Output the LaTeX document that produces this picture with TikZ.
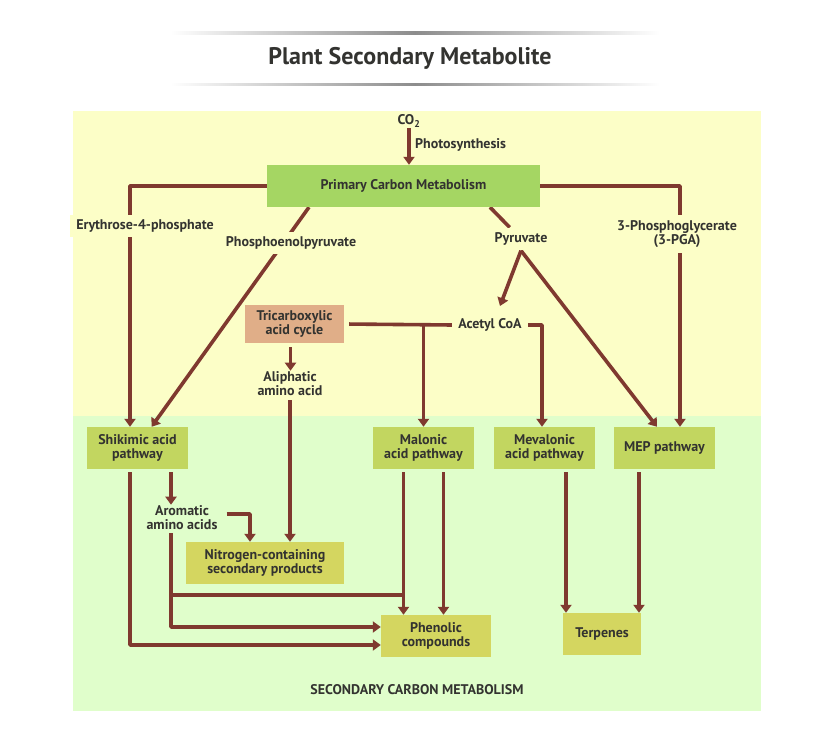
\documentclass[tikz,border=0pt]{standalone}
\usepackage{fontspec}
\setmainfont{PT Sans}
\usetikzlibrary{arrows.meta,positioning}

\definecolor{linebrown}{HTML}{7F392F}
\definecolor{primbg}{HTML}{FCFEC7}
\definecolor{secbg}{HTML}{E0FECB}
\definecolor{primgreen}{HTML}{A5D663}
\definecolor{pathgreen}{HTML}{C2D660}
\definecolor{prodyellow}{HTML}{D4D660}
\definecolor{tcatan}{HTML}{E0AE88}
\definecolor{textgray}{HTML}{333330}

\pgfdeclarelayer{back}
\pgfdeclarelayer{wires}
\pgfsetlayers{back,wires,main}

\begin{document}
\begin{tikzpicture}[x=1pt, y=-1pt, >={Triangle[width=11pt,length=8pt]},
    font=\bfseries\fontsize{14}{14}\selectfont, text=textgray,
    wire/.style={draw=linebrown, line width=3.6pt, line join=round},
    box/.style={minimum height=42pt, inner sep=0pt, align=center},
    pathbox/.style={box, fill=pathgreen, minimum width=101pt},
    prodbox/.style={box, fill=prodyellow},
    gaplbl/.style={fill=primbg, inner xsep=6pt, inner ysep=5pt, align=center},
    lbl/.style={inner sep=1pt, align=center}]

    % Backgrounds
    \begin{pgfonlayer}{back}
    \fill [white] (0,0) rectangle (817,735);
    \fill [primbg] (73,111) rectangle (761,416);
    \fill [secbg] (73,416) rectangle (761,711);
    \shade [left color=white, right color=black!45] (170,32) rectangle (415,34.5);
    \shade [left color=black!45, right color=white] (415,32) rectangle (660,34.5);
    \shade [left color=white, right color=black!45] (170,83.5) rectangle (415,86);
    \shade [left color=black!45, right color=white] (415,83.5) rectangle (660,86);
    \end{pgfonlayer}

    % Nodes {boxes}
    \node (title) at (410,58) {\fontsize{24}{26}\selectfont Plant Secondary Metabolite};
    \node [box, fill=primgreen, minimum width=273pt] (pcm) at (403.5,186) {Primary Carbon Metabolism};
    \node [box, fill=tcatan, minimum width=99pt, minimum height=38pt] (tca) at (294.5,324) {Tricarboxylic\\acid cycle};
    \node [pathbox] (shik) at (137.5,448) {Shikimic acid\\pathway};
    \node [pathbox] (mal)  at (423.5,448) {Malonic\\acid pathway};
    \node [pathbox] (mev)  at (544.5,448) {Mevalonic\\acid pathway};
    \node [pathbox] (mep)  at (664.5,448) {MEP pathway};
    \node [prodbox, minimum width=158pt] (nitro) at (265,563) {Nitrogen-containing\\secondary products};
    \node [prodbox, minimum width=110pt] (phen)  at (436,636) {Phenolic\\compounds};
    \node [prodbox, minimum width=78pt]  (terp)  at (602,634) {Terpenes};

    % Nodes {labels}
    \node [lbl] (co2) at (409,121) {CO\textsubscript{2}};
    \node [lbl, anchor=west] (photo) at (414,145) {Photosynthesis};
    \node [gaplbl] (e4p) at (145,226) {Erythrose-4-phosphate};
    \node [gaplbl] (pep) at (291,243) {Phosphoenolpyruvate};
    \node [gaplbl] (pyr) at (521,239) {Pyruvate};
    \node [gaplbl] (pga) at (677,234) {3-Phosphoglycerate\\(3-PGA)};
    \node [gaplbl] (acetyl) at (490,325) {Acetyl CoA};
    \node [lbl] (ali)  at (290,384) {Aliphatic\\amino acid};
    \node [lbl] (arom) at (182,518) {Aromatic\\amino acids};
    \node [lbl] (sec)  at (417,690) {SECONDARY CARBON METABOLISM};

    % Coordinates for the line ends
    \coordinate (acT)    at (500,306);
    \coordinate (shikBL) at ([xshift=-7.5pt]shik.south);
    \coordinate (shikBR) at ([xshift=33.5pt]shik.south);
    \coordinate (aromB)  at ([xshift=-11pt]arom.south);
    \coordinate (malBL)  at ([xshift=-20pt]mal.south);
    \coordinate (malBR)  at ([xshift=20pt]mal.south);
    \coordinate (mevB)   at ([xshift=21.5pt]mev.south);
    \coordinate (mepB)   at ([xshift=-25.5pt]mep.south);
    \coordinate (mix)    at (malBL |- 0,595);

    % Paths
    \begin{pgfonlayer}{wires}
    \draw [wire, ->] (co2) -- (co2 |- pcm.north);
    \draw [wire, ->] (pcm.west) -| ([xshift=-7.5pt]shik.north);
    \draw [wire, ->] ([xshift=-94.5pt]pcm.south) -- ([xshift=14pt]shik.north);
    \draw [wire]     ([xshift=86.5pt]pcm.south) -- (pyr);
    \draw [wire, ->] (pyr.south) -- (acT);
    \draw [wire, ->] (pyr.south) -- ([xshift=-7.5pt]mep.north);
    \draw [wire, ->] (pcm.east) -| ([xshift=15.5pt]mep.north);
    \draw [wire, shorten <=5pt] (tca.east) -- (acetyl.west);
    \draw [wire, ->] (tca.east -| mal.north) -- (mal.north);
    \draw [wire, ->] (acetyl.east) -| ([xshift=-2.5pt]mev.north);
    \draw [wire, ->, shorten <=4pt] ([xshift=-4pt]tca.south) -- ([xshift=-4pt]tca.south |- ali.north);
    \draw [wire, ->, shorten <=3pt] (ali.south) -- (ali.south |- nitro.north);
    \draw [wire, ->, shorten <=3pt] (shikBR) -- (shikBR |- arom.north);
    \draw [wire, ->] ([shift={(8pt,4pt)}]arom.east) -| ([xshift=-15pt]nitro.north);
    \draw [wire, ->, shorten <=2pt] (aromB) |- ([yshift=9pt]phen.west);
    \draw [wire] (aromB |- mix) -- (mix);
    \draw [wire, ->, shorten <=3pt] (shikBL) |- ([yshift=-9pt]phen.west);
    \draw [wire, ->, shorten <=3pt] (malBL) -- (malBL |- phen.north);
    \draw [wire, ->, shorten <=3pt] (malBR) -- (malBR |- phen.north);
    \draw [wire, ->, shorten <=3pt] (mevB) -- (mevB |- terp.north);
    \draw [wire, ->, shorten <=3pt] (mepB) -- (mepB |- terp.north);
    \end{pgfonlayer}

    \useasboundingbox (0,0) rectangle (817,735);
\end{tikzpicture}
\end{document}
